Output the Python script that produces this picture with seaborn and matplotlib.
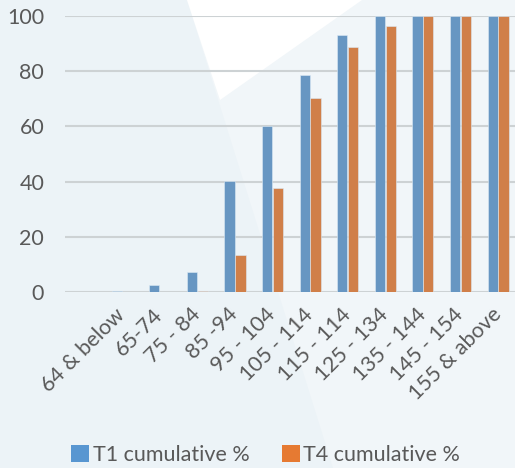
import matplotlib
matplotlib.use("Agg")
import matplotlib.pyplot as plt
from matplotlib.patches import Polygon, Patch
import seaborn as sns
import pandas as pd

categories = ["64 & below", "65-74", "75 - 84", "85 -94", "95 - 104", "105 - 114",
              "115 - 114", "125 - 134", "135 - 144", "145 - 154", "155 & above"]
t1_cumulative = [0.5, 2.5, 7.4, 40.2, 60.1, 78.5, 93.0, 100, 100, 100, 100]
t4_cumulative = [0.0, 0.0, 0.5, 13.3, 37.8, 70.2, 88.6, 96.4, 100, 100, 100]
series_names = ["T1 cumulative %", "T4 cumulative %"]

df = pd.DataFrame({
    "band": categories * 2,
    "pct": t1_cumulative + t4_cumulative,
    "series": [series_names[0]] * len(categories) + [series_names[1]] * len(categories),
})

sns.set_theme(style="white")
plt.rcParams["font.family"] = ["Lato", "DejaVu Sans"]
text_color = "#595959"
fs = 15.5
palette = {series_names[0]: "#5896D1", series_names[1]: "#E67A32"}

W, H = 515, 468
fig = plt.figure(figsize=(W / 100, H / 100), dpi=100, facecolor="#ECF3F7")

def px(points):
    return [(x / W, 1 - y / H) for x, y in points]

# soft geometric backdrop, kept behind the chart
fig.patches.append(Polygon(px([(187, 0), (333, 468), (515, 468), (515, 0)]),
                           closed=True, transform=fig.transFigure,
                           facecolor="#F1F6F9", edgecolor="none", zorder=-10))
fig.patches.append(Polygon(px([(187, 0), (220, 100), (362, 0)]),
                           closed=True, transform=fig.transFigure,
                           facecolor="#FFFFFF", edgecolor="none", zorder=-9))

ax = fig.add_axes([65 / W, (H - 292) / H, (W - 65) / W, 276 / H])
ax.set_facecolor("none")

sns.barplot(data=df, x="band", y="pct", hue="series", palette=palette,
            width=0.58, gap=0.06, ax=ax, legend=False, errorbar=None,
            edgecolor="#DCEAF5", linewidth=0.4)

ax.set_ylim(0, 100)
ax.set_xlim(-1.52, 10.45)
ax.set_yticks([0, 20, 40, 60, 80, 100])
ax.yaxis.grid(True, color="#CDD2D4", linewidth=1.5)
ax.set_axisbelow(True)
for s in ax.spines.values():
    s.set_visible(False)
ax.set_xlabel("")
ax.set_ylabel("")
ax.tick_params(axis="y", length=0, pad=15, labelsize=fs, labelcolor=text_color)
ax.tick_params(axis="x", length=0, pad=14, labelsize=fs, labelcolor=text_color)
ax.set_xticks(range(len(categories)))
ax.set_xticklabels(categories, rotation=45, ha="right", va="center",
                   rotation_mode="anchor")

handles = [Patch(facecolor=palette[n], edgecolor="none") for n in series_names]
fig.legend(handles, series_names, loc="center",
           bbox_to_anchor=(0.5 + 8 / W, 1 - 455 / H),
           ncol=2, frameon=False, fontsize=fs, labelcolor=text_color,
           handlelength=0.85, handleheight=0.85, handletextpad=0.15,
           columnspacing=1.5)

fig.savefig("out.png", dpi=100, facecolor=fig.get_facecolor())
